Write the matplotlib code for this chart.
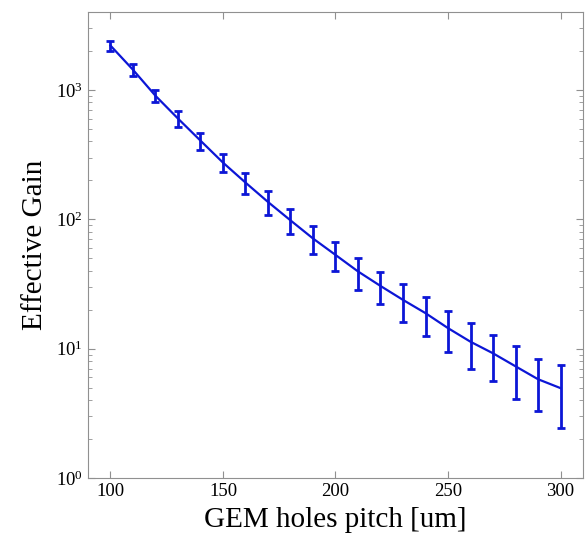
import matplotlib
matplotlib.use("Agg")
import matplotlib.pyplot as plt

plt.rcParams['font.family'] = ['Liberation Serif', 'DejaVu Serif']
plt.rcParams['mathtext.fontset'] = 'custom'
plt.rcParams['mathtext.rm'] = 'Liberation Serif'
plt.rcParams['mathtext.it'] = 'Liberation Serif:italic'

# GEM hole pitch [um] and effective gain with errors
pitch = [100, 110, 120, 130, 140, 150, 160, 170, 180, 190, 200,
         210, 220, 230, 240, 250, 260, 270, 280, 290, 300]
gain = [2200, 1430, 900, 600, 405, 274, 192, 136, 98, 71, 53,
        39.5, 30.5, 23.8, 18.8, 14.4, 11.3, 9.2, 7.3, 5.8, 4.95]
gain_err = [200, 150, 100, 84, 60, 44, 35, 28, 21, 17, 13.5,
            11, 8.5, 7.6, 6.2, 5.0, 4.4, 3.6, 3.2, 2.5, 2.5]

fig = plt.figure(figsize=(5.85, 5.37), dpi=100)
ax = fig.add_axes([0.1504, 0.1099, 0.8462, 0.8678])

ax.errorbar(pitch, gain, yerr=gain_err, color='#0c16d6', lw=1.6,
            elinewidth=2, capsize=3, capthick=2)

ax.set_yscale('log')
ax.set_xlim(90, 310)
ax.set_ylim(1, 4000)
ax.set_xticks([100, 150, 200, 250, 300])
ax.set_yticks([1, 10, 100, 1000])

ax.set_xlabel('GEM holes pitch [um]', fontsize=21, labelpad=5)
ax.set_ylabel('Effective Gain', fontsize=21, labelpad=6)

ax.tick_params(which='both', direction='in', top=True, right=True,
               color='#909090', labelsize=13.5)
ax.tick_params(which='major', length=5)
ax.tick_params(which='minor', length=3)
for s in ax.spines.values():
    s.set_color('#909090')

fig.savefig('out.png', dpi=100)
